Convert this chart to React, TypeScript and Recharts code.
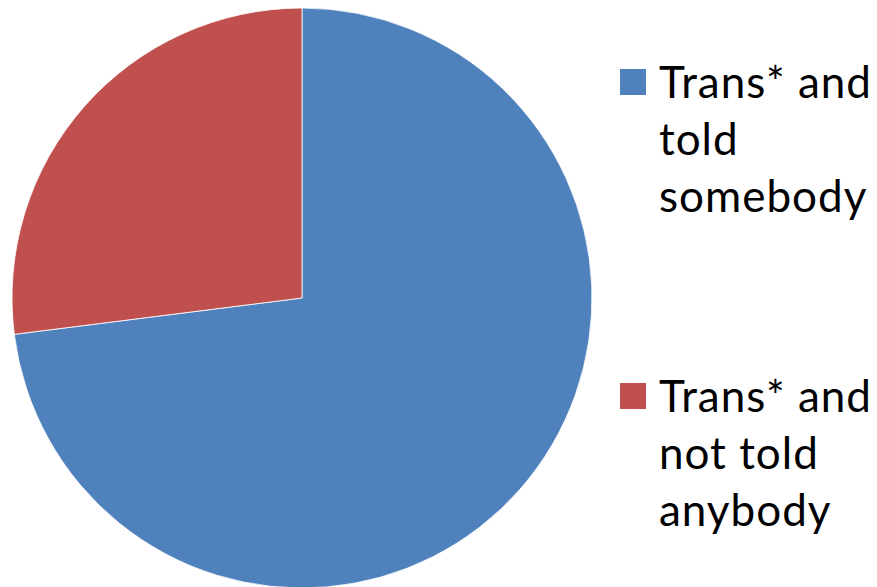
import { PieChart, Pie, Cell, Legend } from "recharts";

const labels = ["Trans* and told somebody", "Trans* and not told anybody"];
const legendLines = [
  ["Trans* and", "told", "somebody"],
  ["Trans* and", "not told", "anybody"],
];
const values = [73, 27];
const colors = ["#4F81BD", "#C0504D"];

const data = labels.map((name, i) => ({ name, value: values[i] }));

const FONT = "Lato, 'Open Sans', sans-serif";

function LegendBox() {
  const tops = [53, 367];
  return (
    <div style={{ position: "relative", width: 260, height: 587 }}>
      {legendLines.map((lines, i) => (
        <div key={i} style={{ position: "absolute", left: 0, top: tops[i] }}>
          <div
            style={{
              position: "absolute",
              left: 0,
              top: 16,
              width: 26,
              height: 26,
              background: colors[i],
            }}
          />
          <div
            style={{
              position: "absolute",
              left: 39,
              top: 0,
              fontFamily: FONT,
              fontSize: 44,
              letterSpacing: 1,
              lineHeight: "57px",
              color: "#000",
              whiteSpace: "nowrap",
            }}
          >
            {lines.map((l, j) => (
              <div key={j}>{l}</div>
            ))}
          </div>
        </div>
      ))}
    </div>
  );
}

export default function App() {
  return (
    <div style={{ position: "absolute", left: 0, top: 0, width: 877, height: 587, background: "#fff", overflow: "hidden" }}>
      <PieChart width={877} height={587} margin={{ top: 0, right: 0, bottom: 0, left: 0 }}>
        <Pie
          data={data}
          dataKey="value"
          nameKey="name"
          cx={302}
          cy={298}
          outerRadius={290}
          startAngle={90}
          endAngle={-270}
          stroke="#ffffff"
          strokeWidth={0.8}
          isAnimationActive={false}
        >
          {data.map((d, i) => (
            <Cell key={d.name} fill={colors[i]} />
          ))}
        </Pie>
        <Legend
          content={() => <LegendBox />}
          wrapperStyle={{ position: "absolute", left: 620, top: 0, width: 260 }}
        />
      </PieChart>
    </div>
  );
}
